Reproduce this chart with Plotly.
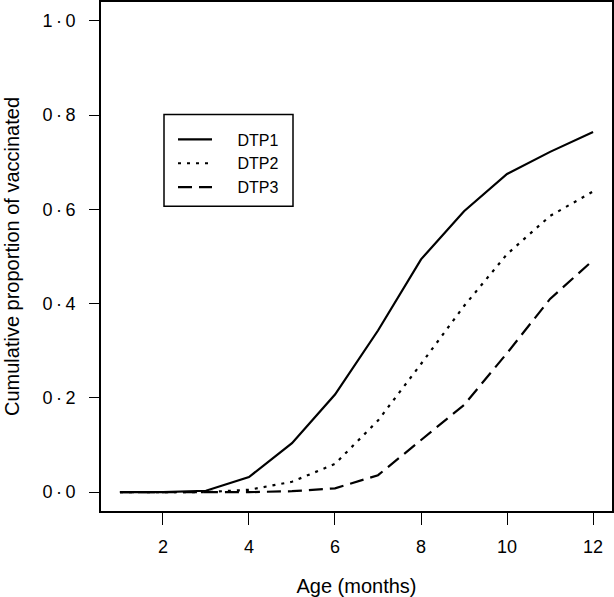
import plotly.graph_objects as go

age = [1, 2, 3, 4, 5, 6, 7, 8, 9, 10, 11, 12]
dtp1 = [0.0, 0.0, 0.003, 0.032, 0.104, 0.207, 0.343, 0.494, 0.596, 0.675, 0.722, 0.764]
dtp2 = [0.0, 0.0, 0.0, 0.005, 0.022, 0.060, 0.152, 0.272, 0.395, 0.505, 0.586, 0.638]
dtp3 = [0.0, 0.0, 0.0, 0.0, 0.002, 0.008, 0.036, 0.11, 0.185, 0.295, 0.41, 0.492]
names = ["DTP1", "DTP2", "DTP3"]
dashes = ["solid", "3px,6px", "14px,7px"]

xticks = [2, 4, 6, 8, 10, 12]
yticks = [0.0, 0.2, 0.4, 0.6, 0.8, 1.0]
ytick_text = ["0\u2009·\u20090", "0\u2009·\u20092", "0\u2009·\u20094",
              "0\u2009·\u20096", "0\u2009·\u20098", "1\u2009·\u20090"]

fig = go.Figure()
for name, vals, dash in zip(names, [dtp1, dtp2, dtp3], dashes):
    fig.add_trace(go.Scatter(x=age, y=vals, mode="lines",
                             name="\u2003\u00a0" + name,
                             line=dict(color="black", width=2.2, dash=dash)))

fam = "Liberation Sans, Arial, sans-serif"
L, R, T, B = 101, 2, 0, 86
W, H = 614, 597
pw, ph = W - L - R, H - T - B


def px(xp):
    return (xp - L) / pw


def py(yp):
    return (H - B - yp) / ph


# legend frame
fig.add_shape(type="rect", xref="paper", yref="paper",
              x0=px(164), x1=px(293), y0=py(205), y1=py(113),
              line=dict(color="black", width=1.5), fillcolor="rgba(0,0,0,0)")

fig.update_layout(
    width=W, height=H,
    margin=dict(l=L, r=R, t=T, b=B),
    paper_bgcolor="white", plot_bgcolor="white",
    font=dict(family=fam, size=17, color="black"),
    showlegend=True,
    legend=dict(x=px(173), y=py(121), xanchor="left", yanchor="top",
                borderwidth=0, bgcolor="rgba(0,0,0,0)", itemwidth=34,
                font=dict(family=fam, size=16, color="black"), tracegroupgap=0),
    xaxis=dict(range=[0.56, 12.44], tickvals=xticks, ticks="outside", ticklen=12,
               tickwidth=1.2, tickcolor="black", showline=True, linecolor="black",
               linewidth=1.5, mirror=True, showgrid=False, zeroline=False,
               tickfont=dict(family=fam, size=18, color="black"), ticklabelstandoff=7,
               title=dict(text="Age (months)", standoff=26,
                          font=dict(family=fam, size=20, color="black"))),
    yaxis=dict(range=[-0.04, 1.04], tickvals=yticks, ticktext=ytick_text,
               ticks="outside", ticklen=10, tickwidth=1.2, tickcolor="black",
               showline=True, linecolor="black", linewidth=1.5, mirror=True,
               showgrid=False, zeroline=False, ticklabelstandoff=10,
               tickfont=dict(family=fam, size=18, color="black"),
               title=dict(text="Cumulative proportion of vaccinated", standoff=17,
                          font=dict(family=fam, size=20, color="black"))),
)

fig.write_html("out.html", config={"displayModeBar": False},
               post_script="document.body.style.margin='0';")
